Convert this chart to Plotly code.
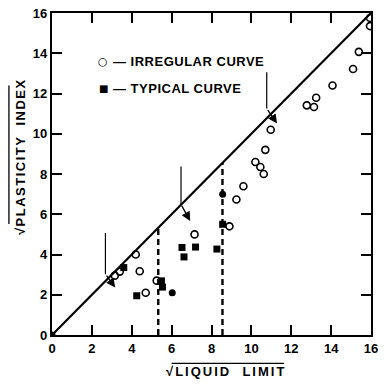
import plotly.graph_objects as go

# ---- data ----
irregular_x = [3.15, 3.4, 4.2, 4.4, 4.7, 5.25, 7.15, 8.9, 9.25, 9.6, 10.2, 10.45, 10.62,
               10.7, 10.97, 12.78, 13.14, 13.25, 14.07, 15.1, 15.39, 15.95, 15.95]
irregular_y = [2.95, 3.15, 4.0, 3.17, 2.1, 2.7, 5.0, 5.4, 6.73, 7.39, 8.6, 8.35, 8.0,
               9.2, 10.2, 11.41, 11.33, 11.79, 12.4, 13.22, 14.07, 15.35, 15.75]
typical_x = [3.6, 4.25, 5.49, 5.54, 6.52, 6.62, 7.2, 8.27, 8.56]
typical_y = [3.35, 1.95, 2.69, 2.38, 4.35, 3.88, 4.37, 4.27, 5.5]
solid_dot_x = [0.0, 6.03, 8.56]
solid_dot_y = [0.0, 2.1, 7.0]

diag_x = [0, 16]
diag_y = [0, 16]
dashed_x = [5.33, 8.55]

arrow_x = [2.68, 6.47, 10.77]
arrow_top = [5.07, 8.37, 13.05]
arrow_bend = [3.02, 6.49, 11.25]
arrow_head_x = [3.17, 6.93, 11.29]
arrow_head_y = [2.36, 5.67, 10.51]

ticks = [0, 2, 4, 6, 8, 10, 12, 14, 16]
tick_text = [str(t) for t in ticks]

legend_labels = ["— IRREGULAR CURVE", "— TYPICAL CURVE"]
legend_symbols = ["○", "■"]

FONT = "Liberation Sans"

fig = go.Figure()

# diagonal line
fig.add_trace(go.Scatter(x=diag_x, y=diag_y, mode="lines",
                         line=dict(color="black", width=2.2), showlegend=False,
                         hoverinfo="skip"))
# dashed verticals up to diagonal
for dx in dashed_x:
    fig.add_trace(go.Scatter(x=[dx, dx], y=[0, dx], mode="lines",
                             line=dict(color="black", width=2.4, dash="6px,4px"),
                             showlegend=False, hoverinfo="skip"))
# arrows: vertical stems
for ax_, t, b in zip(arrow_x, arrow_top, arrow_bend):
    fig.add_trace(go.Scatter(x=[ax_, ax_], y=[t, b], mode="lines",
                             line=dict(color="black", width=1.2),
                             showlegend=False, hoverinfo="skip"))
for ax_, b, hx, hy in zip(arrow_x, arrow_bend, arrow_head_x, arrow_head_y):
    fig.add_annotation(x=hx, y=hy, ax=ax_, ay=b, xref="x", yref="y",
                       axref="x", ayref="y", showarrow=True, arrowhead=2,
                       arrowsize=1.4, arrowwidth=1.3, arrowcolor="black", text="")

fig.add_trace(go.Scatter(x=irregular_x, y=irregular_y, mode="markers",
                         name=legend_labels[0], showlegend=False,
                         marker=dict(symbol="circle-open", size=7, color="black",
                                     line=dict(width=1.6, color="black"))))
fig.add_trace(go.Scatter(x=typical_x, y=typical_y, mode="markers",
                         name=legend_labels[1], showlegend=False,
                         marker=dict(symbol="square", size=7, color="black")))
fig.add_trace(go.Scatter(x=solid_dot_x, y=solid_dot_y, mode="markers",
                         showlegend=False,
                         marker=dict(symbol="circle", size=7, color="black")))

# legend drawn as text inside the plot
leg_y = [0.85, 0.765]
for sym, lab, yy in zip(legend_symbols, legend_labels, leg_y):
    fig.add_annotation(text=sym, xref="paper", yref="paper", x=0.16, y=yy,
                       showarrow=False, xanchor="center", yanchor="middle",
                       font=dict(family="DejaVu Sans", size=11 if sym == "○" else 10,
                                 color="black", weight="bold"))
    fig.add_annotation(text='<span style="letter-spacing:0.5px">' + lab + '</span>',
                       xref="paper", yref="paper", x=0.185, y=yy,
                       showarrow=False, xanchor="left", yanchor="middle",
                       font=dict(family=FONT, size=13, color="black", weight="bold"))

axis_common = dict(range=[0, 16], tickvals=ticks, ticktext=tick_text,
                   showline=True, linewidth=2.2, linecolor="black", mirror="allticks",
                   ticks="inside", ticklen=10, tickwidth=1.5, tickcolor="black",
                   showgrid=False, zeroline=False,
                   tickfont=dict(family=FONT, size=13, color="black", weight="bold"))
fig.update_xaxes(**axis_common)
fig.update_yaxes(**axis_common)

# axis labels with radical sign
fig.add_annotation(text='<span style="letter-spacing:2px">√LIQUID  LIMIT</span>',
                   xref="paper", yref="paper", x=0.545, y=-0.114,
                   showarrow=False, xanchor="center", yanchor="middle",
                   font=dict(family=FONT, size=13, color="black", weight="bold"))
fig.add_shape(type="line", xref="paper", yref="paper",
              x0=0.375, x1=0.727, y0=-0.088, y1=-0.088,
              line=dict(color="black", width=1.3))
fig.add_annotation(text='<span style="letter-spacing:1.5px">√PLASTICITY  INDEX</span>',
                   xref="paper", yref="paper", x=-0.098, y=0.555, textangle=-90,
                   showarrow=False, xanchor="center", yanchor="middle",
                   font=dict(family=FONT, size=13, color="black", weight="bold"))
fig.add_shape(type="line", xref="paper", yref="paper",
              x0=-0.135, x1=-0.135, y0=0.345, y1=0.775,
              line=dict(color="black", width=1.3))

fig.update_layout(
    width=384, height=384,
    margin=dict(l=52, r=6, t=9, b=49),
    paper_bgcolor="white", plot_bgcolor="white",
    showlegend=False,
)

fig.write_html("out.html")
